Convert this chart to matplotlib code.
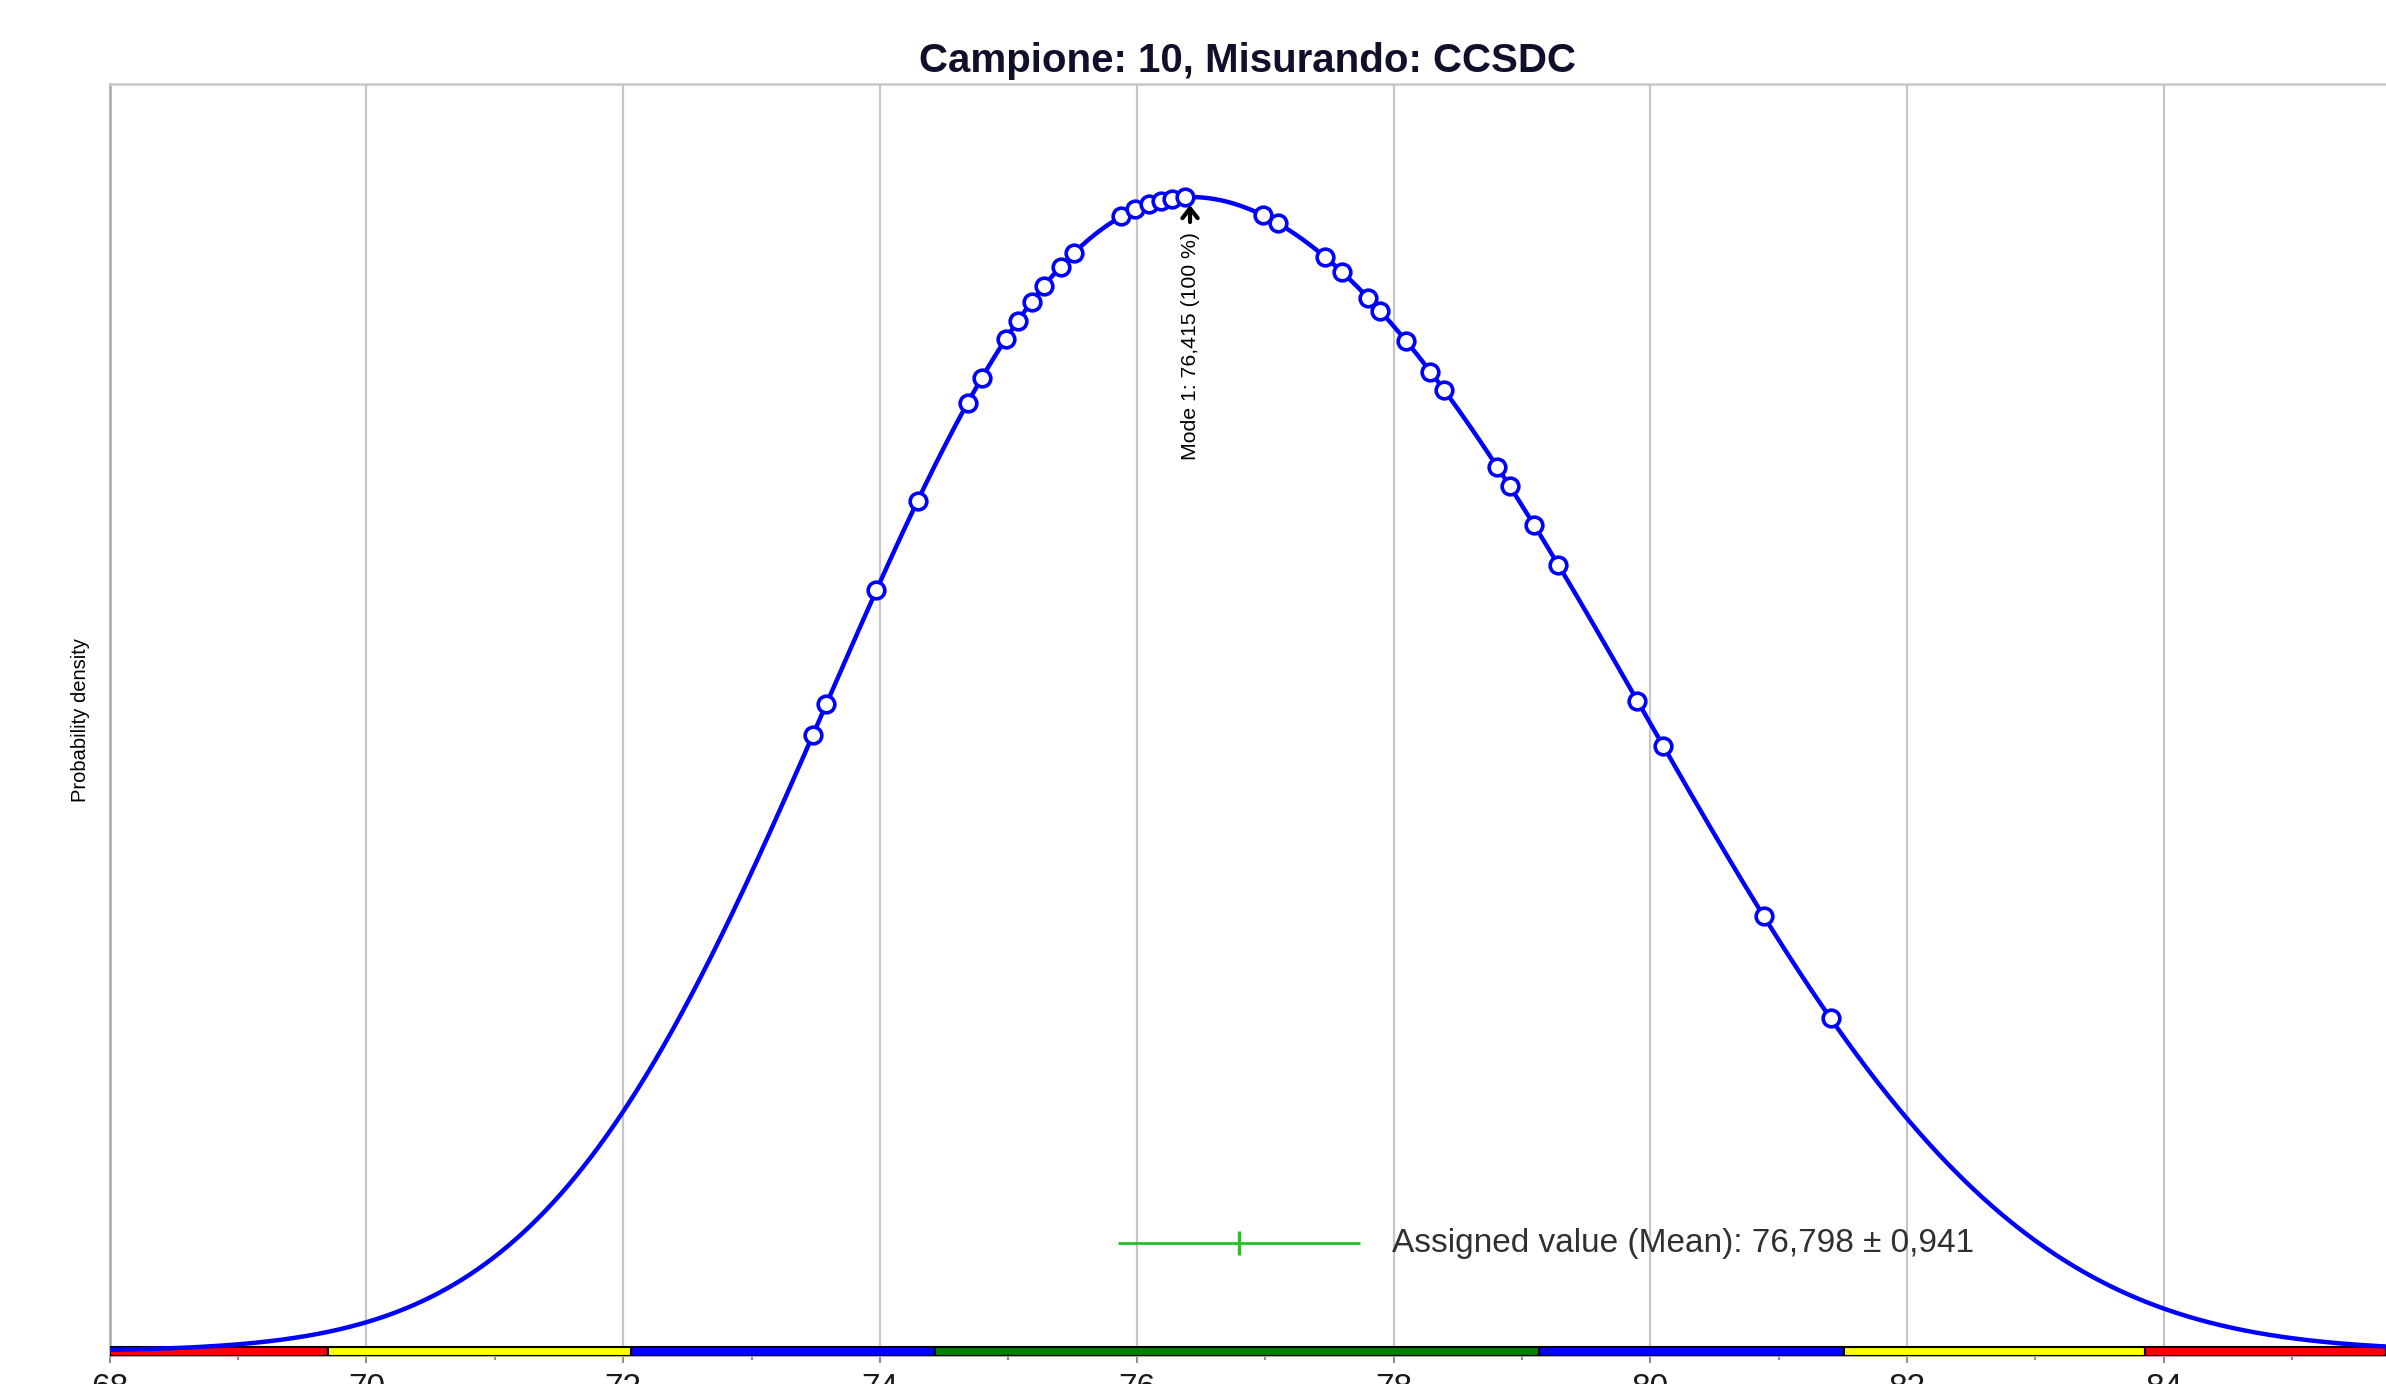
import numpy as np
import matplotlib
matplotlib.use("Agg")
import matplotlib.pyplot as plt

# ---------------- data ----------------
title_text = "Campione: 10, Misurando: CCSDC"
results = [73.476, 73.582, 73.973, 74.293, 74.684, 74.791, 74.981, 75.076,
           75.182, 75.277, 75.407, 75.514, 75.881, 75.988, 76.095, 76.190,
           76.273, 76.379, 76.984, 77.102, 77.470, 77.600, 77.801, 77.896,
           78.098, 78.287, 78.394, 78.809, 78.904, 79.093, 79.283, 79.899,
           80.101, 80.883, 81.404]
kernel_bandwidth = 1.76
mode_value = 76.415
mode_share = 100
assigned_mean = 76.798
assigned_unc = 0.941
zone_edges = [68.0, 69.70, 72.06, 74.43, 79.13, 81.51, 83.85, 85.73]
zone_colors = ["#ff0000", "#ffff00", "#0000ff", "#008000",
               "#0000ff", "#ffff00", "#ff0000"]
x_major = [68, 70, 72, 74, 76, 78, 80, 82, 84]
x_minor = [69, 71, 73, 75, 77, 79, 81, 83, 85]
x_limits = (68.0, 85.73)

plt.rcParams["font.family"] = ["Liberation Sans", "DejaVu Sans"]
narrow = ["Liberation Sans Narrow", "Liberation Sans", "DejaVu Sans"]


def density(x):
    r = np.asarray(results)
    z = (np.asarray(x)[..., None] - r) / kernel_bandwidth
    return np.exp(-0.5 * z ** 2).sum(-1) / (len(r) * kernel_bandwidth * np.sqrt(2 * np.pi))


fig = plt.figure(figsize=(23.86, 13.84), dpi=100)
ax = fig.add_axes([109.6 / 2386, 28 / 1384, 1 - 109.6 / 2386, (1356 - 84) / 1384])

xs = np.linspace(x_limits[0], x_limits[1], 1500)
ys = density(xs)
pk = ys.max()

ax.set_xlim(*x_limits)
ax.set_ylim(-0.0043 * pk, 1.098 * pk)

# grid
for xv in x_major[1:]:
    ax.axvline(xv, color="#c6c6c6", lw=1.6, zorder=1)

# bottom zone bar
ax.broken_barh([(zone_edges[i], zone_edges[i + 1] - zone_edges[i]) for i in range(len(zone_colors))],
               (-0.0043 * pk, 0.0080 * pk), facecolors=zone_colors, edgecolor="black",
               linewidth=1.5, zorder=3, clip_on=True)

# density curve and results
ax.plot(xs, ys, color="#0000ff", lw=3.2, zorder=4)
ax.plot(results, density(results), linestyle="none", marker="o", markersize=12,
        markerfacecolor="white", markeredgecolor="#0000ff", markeredgewidth=2.6, zorder=5)

# mode annotation
ax.annotate("", xy=(mode_value, 0.9955 * pk), xytext=(mode_value, 0.976 * pk),
            arrowprops=dict(arrowstyle="->,head_width=0.55,head_length=0.7", color="black", lw=3.0),
            zorder=6)
mode_label = f"Mode 1: {mode_value:.3f}".replace(".", ",") + f" ({mode_share} %)"
ax.text(mode_value, 0.970 * pk, mode_label, rotation=90, ha="center", va="top",
        fontsize=15.3, family=narrow, color="black", zorder=6)

# assigned value
ax.errorbar([assigned_mean], [0.0935 * pk], xerr=[assigned_unc], fmt="|", color="#22c222",
            markersize=17, markeredgewidth=2.4, elinewidth=2.0, capsize=0, zorder=5)
assigned_label = ("Assigned value (Mean): " + f"{assigned_mean:.3f}".replace(".", ",")
                  + " \u00b1 " + f"{assigned_unc:.3f}".replace(".", ","))
ax.text(77.99, 0.0935 * pk, assigned_label, ha="left", va="center", fontsize=24,
        color="#303030", zorder=6)

# axes styling
ax.set_xticks(x_major)
ax.set_xticklabels([str(v) for v in x_major])
ax.set_xticks(x_minor, minor=True)
ax.tick_params(axis="x", which="major", direction="out", length=5, width=1.5, color="#909090",
               labelsize=24, pad=7, labelcolor="#1a1a1a")
ax.tick_params(axis="x", which="minor", direction="out", length=3, width=1.5, color="#909090")
ax.set_yticks([])
ax.spines["right"].set_visible(False)
ax.spines["top"].set_color("#c8c8c8")
ax.spines["top"].set_linewidth(1.8)
ax.spines["left"].set_color("#a8a8a8")
ax.spines["left"].set_linewidth(1.8)
ax.spines["bottom"].set_color("#a8a8a8")
ax.spines["bottom"].set_linewidth(1.5)

ax.set_ylabel("Probability density", fontsize=14.5, family=narrow, color="black", labelpad=14)
ax.set_title(title_text, fontsize=29, fontweight="bold", pad=9, color="#10102a")

fig.savefig("out.png", dpi=100)
